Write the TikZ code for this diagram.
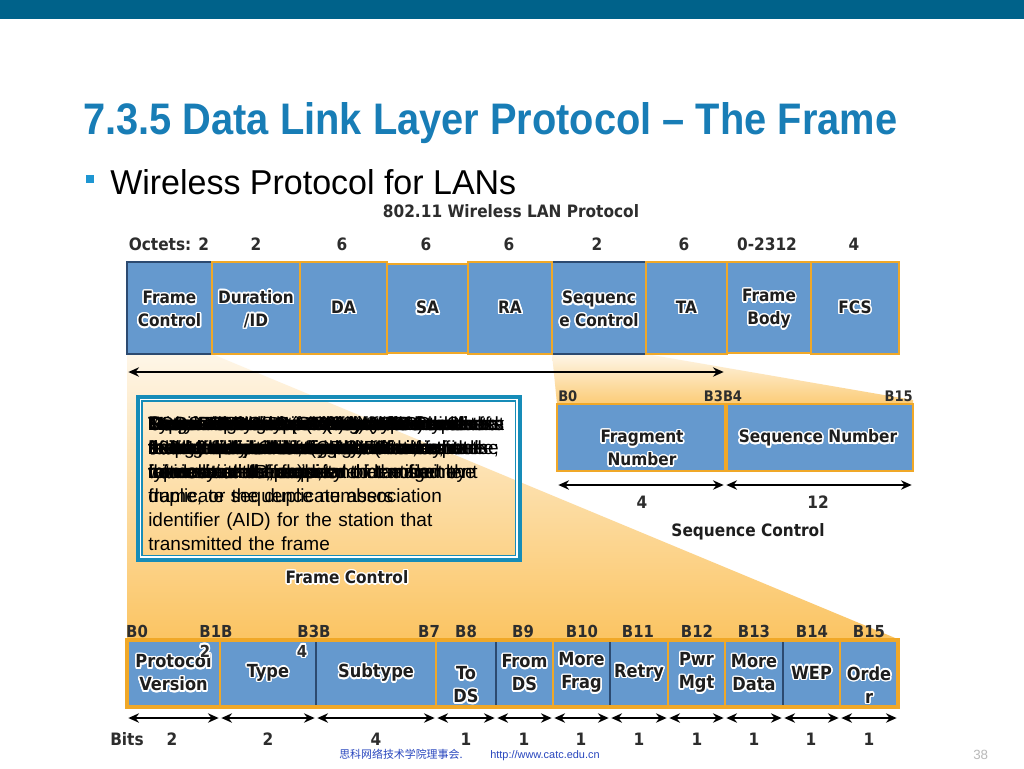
\documentclass[tikz,border=0pt]{standalone}
\usepackage{fontspec}
\setmainfont{Liberation Sans}
\newfontfamily\tah{DejaVu Sans Condensed}
\newfontfamily\cjk{Noto Sans CJK SC}
\usepackage{contour}
\contourlength{1.1pt}
\usetikzlibrary{arrows.meta}
\hyphenpenalty=10000
\exhyphenpenalty=10000
\definecolor{barcol}{RGB}{0,98,138}
\definecolor{titleblue}{RGB}{24,125,182}
\definecolor{bulblue}{RGB}{30,150,210}
\definecolor{boxblue}{RGB}{101,153,206}
\definecolor{darkb}{RGB}{44,74,112}
\definecolor{orng}{RGB}{240,168,40}
\definecolor{fanpale}{RGB}{254,246,232}
\definecolor{fanor}{RGB}{251,196,98}
\definecolor{labtxt}{RGB}{30,30,30}
\definecolor{numtxt}{RGB}{45,45,45}
\definecolor{descteal}{RGB}{22,140,184}
\definecolor{footblue}{RGB}{40,70,190}
\definecolor{pgnum}{RGB}{185,185,185}
\newcommand\gl[1]{\contour{white}{#1}}
\newcommand\fld[6]{\node[#6, anchor=north west, inner sep=0, outer sep=0,
  minimum width={(#4-#2)*0.75pt}, minimum height={(#5-#3)*0.75pt}] (#1) at (#2,#3) {};}
\tikzset{
  lab/.style={font=\tah\bfseries\fontsize{12.8pt}{17.25pt}\selectfont, text=labtxt, align=center, inner sep=0},
  blab/.style={font=\tah\bfseries\fontsize{13.5pt}{17.25pt}\selectfont, text=labtxt, align=center, inner sep=0},
  num/.style={font=\tah\bfseries\fontsize{12.8pt}{15pt}\selectfont, text=numtxt, inner sep=0, anchor=base},
  bnum/.style={font=\tah\bfseries\fontsize{12.4pt}{15pt}\selectfont, text=numtxt, inner sep=0, anchor=base},
  snum/.style={font=\tah\bfseries\fontsize{10.9pt}{13pt}\selectfont, text=numtxt, inner sep=0, anchor=base},
  fblue/.style={fill=boxblue, draw=darkb, line width=1.2pt},
  fora/.style={fill=boxblue, draw=orng, line width=2.2pt},
  fplain/.style={fill=boxblue, draw=darkb, line width=0.9pt},
  dimarr/.style={{Stealth[length=8pt,width=7pt]}-{Stealth[length=8pt,width=7pt]}, line width=1.5pt, black, shorten <=1pt, shorten >=1pt},
  desc/.style={anchor=north west, inner sep=0, text width=268pt, align=left,
    font=\fontsize{14.25pt}{18pt}\selectfont, text=black}
}
\begin{document}
\begin{tikzpicture}[x=0.75pt,y=-0.75pt]
\useasboundingbox (0,0) rectangle (1024,768);
\fill[white] (0,0) rectangle (1024,768);
\fill[barcol] (0,0) rectangle (1024,19);
% title
\node[anchor=base west, inner sep=0, text=titleblue] (title) at (83,134)
  {\resizebox{610.5pt}{24pt}{\bfseries 7.3.5 Data Link Layer Protocol – The Frame}};
\fill[bulblue] (86,175) rectangle (94,183);
\node[anchor=base west, inner sep=0, text=black] (sub) at (110,194)
  {\resizebox{304.5pt}{18.75pt}{Wireless Protocol for LANs}};
% fans
\shade[top color=fanpale, bottom color=fanor] (127,354) -- (212,354) -- (900,640) -- (127,640) -- cycle;
\shade[top color=fanpale, bottom color=fanor!85!fanpale] (552,354) -- (646,354) -- (913,400) -- (913,404) -- (557,404) -- cycle;
% header
\node[num] (hdr) at (511,217) {802.11 Wireless LAN Protocol};
\node[num] (o1) at (169,250) {Octets: 2};
\node[num] (o2) at (256,250) {2};
\node[num] (o3) at (342,250) {6};
\node[num] (o4) at (426,250) {6};
\node[num] (o5) at (509,250) {6};
\node[num] (o6) at (597,250) {2};
\node[num] (o7) at (684,250) {6};
\node[num] (o8) at (767,250) {0-2312};
\node[num] (o9) at (854,250) {4};
% top row
\fld{fc}{127}{262}{212}{354}{fblue}
\fld{sqc}{552}{262}{646}{354}{fblue}
\fld{dur}{212}{262}{300}{354}{fora}
\fld{da}{300}{262}{387}{354}{fora}
\fld{sa}{387}{264}{468}{353}{fora}
\fld{ra}{468}{262}{552}{354}{fora}
\fld{ta}{646}{262}{727}{354}{fora}
\fld{fb}{727}{262}{811}{353}{fora}
\fld{fcs}{811}{262}{899}{354}{fora}
\node[lab] (fc-l) at ([yshift=-1.5pt]fc.center) {\gl{Frame}\\\gl{Control}};
\node[lab] (dur-l) at ([yshift=-1.5pt]dur.center) {\gl{Duration}\\\gl{/ID}};
\node[lab] (da-l) at (da) {\gl{DA}};
\node[lab] (sa-l) at (sa) {\gl{SA}};
\node[lab] (ra-l) at (ra) {\gl{RA}};
\node[lab] (sqc-l) at ([yshift=-1.5pt]sqc.center) {\gl{Sequenc}\\\gl{e Control}};
\node[lab] (ta-l) at (ta) {\gl{TA}};
\node[lab] (fb-l) at ([yshift=-1.5pt]fb.center) {\gl{Frame}\\\gl{Body}};
\node[lab] (fcs-l) at (fcs) {\gl{FCS}};
% long arrow
\coordinate (la1) at (127,372);
\coordinate (la2) at (725,372);
\draw[dimarr] (la1) -- (la2);
% description box
\draw[descteal, line width=3pt] (137.5,396.5) rectangle (520,560);
\draw[white, line width=1pt] (140.5,399.5) rectangle (517,557);
\draw[descteal, line width=0.9pt] (142,401) rectangle (515.5,555.5);
\node[desc] (d1) at (148,412) {\rule{0pt}{14pt}Protocol Version – Version of\\802.11 frame in use};
\node[desc] (d2) at (148,412) {\rule{0pt}{14pt}Type and Subtype – Identifies one of three functions and subfunctions of the frame: control, data, and management};
\node[desc] (d3) at (148,412) {\rule{0pt}{14pt}To DS – Set to 1 in data frames destined for the distribution system (devices in the wireless structure)};
\node[desc] (d4) at (148,412) {\rule{0pt}{14pt}From DS – Set to 1 in data frames exiting the distribution system};
\node[desc] (d5) at (148,412) {\rule{0pt}{14pt}More Fragments – Set to 1 for frames that have another fragment};
\node[desc] (d6) at (148,412) {\rule{0pt}{14pt}Retry – Set to 1 if the frame is a retransmission of an earlier frame};
\node[desc] (d7) at (148,412) {\rule{0pt}{14pt}Power Management – Set to 1 to indicate that a node will be in power-save mode};
\node[desc] (d8) at (148,412) {\rule{0pt}{14pt}More Data – Set to 1 to indicate to a node in power-save mode that more frames are buffered for that node};
\node[desc] (d9) at (148,412) {\rule{0pt}{14pt}Wired Equivalent Privacy (WEP) – Set to 1 if the frame contains WEP encrypted information for security};
\node[desc] (d10) at (148,412) {\rule{0pt}{14pt}Order – Set to 1 in a data type frame that uses Strictly Ordered service class};
\node[desc] (d11) at (148,412) {\rule{0pt}{14pt}Destination Address (DA) – MAC address of the final destination node in the network};
\node[desc] (d12) at (148,412) {\rule{0pt}{14pt}Source Address (SA) – MAC address of the node that initiated the frame};
\node[desc] (d13) at (148,412) {\rule{0pt}{14pt}Receiver Address (RA) – MAC address that identifies the wireless device that is the immediate recipient of the frame};
\node[desc] (d14) at (148,412) {\rule{0pt}{14pt}Fragment Number – Indicates the number for each fragment of a frame};
\node[desc] (d15) at (148,412) {\rule{0pt}{14pt}Sequence Number – Indicates the sequence number assigned to the frame; retransmitted frames are identified by duplicate sequence numbers};
\node[desc] (d16) at (148,412) {\rule{0pt}{14pt}Transmitter Address (TA) – MAC address that identifies the wireless device that transmitted the frame};
\node[desc] (d17) at (148,412) {\rule{0pt}{14pt}Frame Body – Contains the information being transported; for data frames, typically an IP packet};
\node[desc] (d18) at (148,412) {\rule{0pt}{14pt}FCS – Contains a 32-bit cyclic redundancy check (CRC) of the frame};
\node[desc] (d19) at (148,412) {\rule{0pt}{14pt}Duration/ID – Depending on the type of\\frame, either indicates the time, in\\microseconds, required to transmit the\\frame, or the duplicate association\\identifier (AID) for the station that\\transmitted the frame};
\node[lab] (fcl) at (347,578) {\gl{Frame Control}};
% sequence control detail
\fld{frn}{557}{404}{725}{471}{fora}
\fld{sqn}{727}{404}{913}{471}{fora}
\node[snum, anchor=base west] (sb0) at (558,401) {B0};
\node[snum] (sb3) at (723,401) {B3B4};
\node[snum, anchor=base east] (sb15) at (913,401) {B15};
\node[lab] (frn-l) at (642,449) {\gl{Fragment}\\\gl{Number}};
\node[lab] (sqn-l) at (818,439) {\gl{Sequence Number}};
\coordinate (sa1) at (557,485);
\coordinate (sa2) at (725,485);
\coordinate (sa3) at (913,485);
\draw[dimarr] (sa1) -- (sa2);
\draw[dimarr] (sa2) -- (sa3);
\node[num] (sn1) at (642,508) {4};
\node[num] (sn2) at (818,508) {12};
\node[lab] (sql) at (748,533) {\gl{Sequence Control}};
% bottom row
\fld{pv}{127}{640}{220}{707}{fora}
\fld{ty}{220}{640}{316}{707}{fplain}
\fld{st}{316}{640}{436}{707}{fplain}
\draw[orng, line width=2.2pt] (ty.north west) rectangle (st.south east);
\fld{tds}{436}{640}{496}{707}{fora}
\fld{fds}{496}{640}{553}{707}{fplain}
\fld{mf}{553}{640}{610}{707}{fora}
\fld{rt}{610}{640}{668}{707}{fplain}
\fld{pm}{668}{640}{725}{707}{fora}
\fld{md}{725}{640}{783}{707}{fora}
\fld{wep}{783}{640}{840}{707}{fplain}
\fld{ord}{840}{640}{898}{707}{fora}
\draw[orng, line width=2.6pt] (pv.north west) rectangle (ord.south east);
\node[blab] (pv-l) at (pv) {\gl{Protocol}\\\gl{Version}};
\node[blab] (ty-l) at (ty) {\gl{Type}};
\node[blab] (st-l) at (st) {\gl{Subtype}};
\node[blab] (tds-l) at ([yshift=-9pt]tds.center) {\gl{To}\\\gl{DS}};
\node[blab] (fds-l) at (fds) {\gl{From}\\\gl{DS}};
\node[blab] (mf-l) at (mf) {\gl{More}\\\gl{Frag}};
\node[blab] (rt-l) at (rt) {\gl{Retry}};
\node[blab] (pm-l) at (pm) {\gl{Pwr}\\\gl{Mgt}};
\node[blab] (md-l) at (md) {\gl{More}\\\gl{Data}};
\node[blab] (wep-l) at (wep) {\gl{WEP}};
\node[blab] (ord-l) at ([yshift=-9pt]ord.center) {\gl{Orde}\\\gl{r}};
\node[bnum] (two) at (205,657) {\gl{2}};
\node[bnum] (four) at (302,657) {\gl{4}};
% bit labels
\node[bnum] (b0) at (137,637) {B0};
\node[bnum] (b1) at (216,637) {B1B};
\node[bnum] (b3) at (314,637) {B3B};
\node[bnum] (b7) at (429,637) {B7};
\node[bnum] (b8) at (466,637) {B8};
\node[bnum] (b9) at (523,637) {B9};
\node[bnum] (b10) at (582,637) {B10};
\node[bnum] (b11) at (638,637) {B11};
\node[bnum] (b12) at (697,637) {B12};
\node[bnum] (b13) at (754,637) {B13};
\node[bnum] (b14) at (812,637) {B14};
\node[bnum] (b15) at (869,637) {B15};
% arrows
\coordinate (arY) at (0,718);
\foreach \f in {pv,ty,st,tds,fds,mf,rt,pm,md,wep,ord}
  \draw[dimarr] (\f.west |- arY) -- (\f.east |- arY);
% bits
\node[num, anchor=base west] (bits) at (110,745) {Bits};
\node[num] (n1) at (172,745) {2};
\node[num] (n2) at (268,745) {2};
\node[num] (n3) at (376,745) {4};
\node[num] (n4) at (466,745) {1};
\node[num] (n5) at (524,745) {1};
\node[num] (n6) at (581,745) {1};
\node[num] (n7) at (639,745) {1};
\node[num] (n8) at (697,745) {1};
\node[num] (n9) at (754,745) {1};
\node[num] (n10) at (811,745) {1};
\node[num] (n11) at (869,745) {1};
% footer
\node[anchor=base west, inner sep=0, text=footblue, font=\cjk\fontsize{8.2pt}{10pt}\selectfont] (f1) at (339,758) {思科网络技术学院理事会.};
\node[anchor=base west, inner sep=0, text=footblue, font=\fontsize{8.2pt}{10pt}\selectfont] (f2) at (490,758) {http://www.catc.edu.cn};
\node[anchor=base west, inner sep=0, text=pgnum, font=\fontsize{10pt}{12pt}\selectfont] (pg) at (973,759) {38};
\end{tikzpicture}
\end{document}
